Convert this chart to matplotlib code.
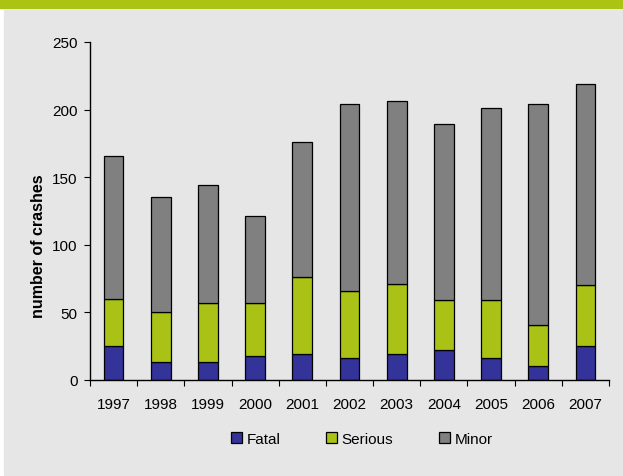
import matplotlib
matplotlib.use("Agg")
import matplotlib.pyplot as plt
from matplotlib.patches import Rectangle
import numpy as np

years = ["1997", "1998", "1999", "2000", "2001", "2002", "2003", "2004", "2005", "2006", "2007"]
fatal = [25, 13, 13, 18, 19, 16, 19, 22, 16, 10, 25]
serious = [35, 37, 44, 39, 57, 50, 52, 37, 43, 31, 45]
minor = [106, 85, 87, 64, 100, 138, 135, 130, 142, 163, 149]

c_fatal = "#333399"
c_serious = "#a9c215"
c_minor = "#808080"
bg = "#e6e6e6"

plt.rcParams["font.family"] = ["Liberation Sans", "DejaVu Sans"]

W, H = 623, 477
fig = plt.figure(figsize=(W / 100, H / 100), dpi=100, facecolor="white")

# background panel and green band at the top
fig.patches.append(Rectangle((4 / W, 1 / H), 1 - 4 / W, (H - 12) / H,
                             transform=fig.transFigure, color=bg, zorder=-2))
fig.patches.append(Rectangle((0, 1 - 9 / H), 1, 9 / H,
                             transform=fig.transFigure, color="#abc414", zorder=-1))

ax = fig.add_axes([90 / W, 1 - 381 / H, (609 - 90) / W, (381 - 43) / H])
ax.set_facecolor(bg)

x = np.arange(len(years))
w = 0.42
bottom2 = np.array(fatal)
bottom3 = bottom2 + np.array(serious)
ax.bar(x, fatal, w, color=c_fatal, edgecolor="black", linewidth=0.9, label="Fatal")
ax.bar(x, serious, w, bottom=bottom2, color=c_serious, edgecolor="black", linewidth=0.9, label="Serious")
ax.bar(x, minor, w, bottom=bottom3, color=c_minor, edgecolor="black", linewidth=0.9, label="Minor")

ax.set_xlim(-0.5, len(years) - 0.5)
ax.set_ylim(0, 250)
ax.set_yticks(range(0, 251, 50))
ax.set_xticks(np.arange(-0.5, len(years), 1.0))
ax.set_xticklabels([])
ax.set_xticks(x, minor=True)
ax.set_xticklabels(years, minor=True)
ax.tick_params(axis="x", which="minor", length=0, pad=12, labelsize=11)
ax.tick_params(axis="x", which="major", length=4, width=0.8, direction="out")
ax.tick_params(axis="y", length=4, width=0.8, labelsize=11, pad=5)

for s in ["top", "right"]:
    ax.spines[s].set_visible(False)
for s in ["left", "bottom"]:
    ax.spines[s].set_linewidth(1.0)

ax.set_ylabel("number of crashes", fontsize=11.5, fontweight="bold")
ax.yaxis.set_label_coords(-0.085, 0.40)

leg = ax.legend(loc="center", bbox_to_anchor=(0.524, -0.175), ncol=3, frameon=False,
                fontsize=11, handlelength=0.7, handleheight=0.7,
                columnspacing=3.0, handletextpad=0.3)

fig.savefig("out.png", dpi=100, facecolor=fig.get_facecolor())
